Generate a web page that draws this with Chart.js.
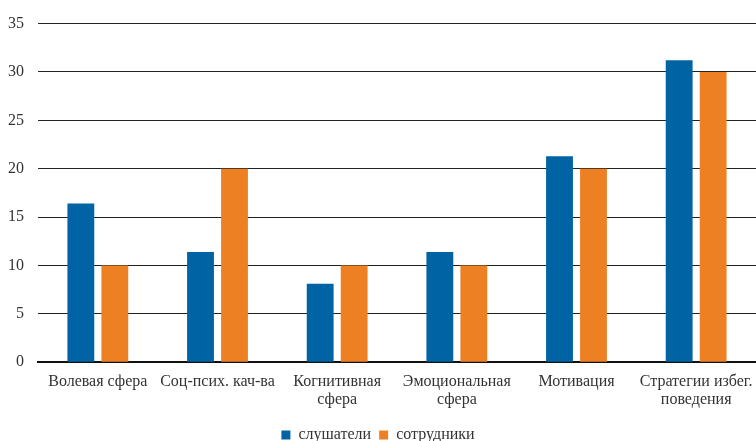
<!DOCTYPE html>
<html>
<head>
<meta charset="utf-8">
<script src="https://cdn.jsdelivr.net/npm/chart.js@4/dist/chart.umd.min.js"></script>
<style>
  html, body { margin: 0; padding: 0; background: #fff; }
  #wrap { width: 756px; height: 441px; }
</style>
</head>
<body>
<div id="wrap"><canvas id="c" width="756" height="441"></canvas></div>
<script>
// Categories (multi-line labels as arrays)
const categories = [
  'Волевая сфера',
  'Соц-псих. кач-ва',
  ['Когнитивная', 'сфера'],
  ['Эмоциональная', 'сфера'],
  'Мотивация',
  ['Стратегии избег.', 'поведения']
];

// Series values
const listeners = [16.4, 11.4, 8.1, 11.4, 21.3, 31.2];   // слушатели
const staff = [10, 20, 10, 10, 20, 30];                   // сотрудники

// Y axis ticks
const yMin = 0;
const yMax = 35;
const yStep = 5;

const seriesNames = ['слушатели', 'сотрудники'];
const seriesColors = ['#0063A3', '#EE8024'];

const fontFamily = '"Liberation Serif", "DejaVu Serif", serif';
const textColor = '#333333';

new Chart(document.getElementById('c'), {
  type: 'bar',
  data: {
    labels: categories,
    datasets: [
      { label: seriesNames[0], data: listeners, backgroundColor: seriesColors[0] },
      { label: seriesNames[1], data: staff, backgroundColor: seriesColors[1] }
    ]
  },
  options: {
    responsive: false,
    animation: false,
    layout: { padding: { top: 13, right: 0, bottom: -12, left: 0 } },
    datasets: {
      bar: { categoryPercentage: 0.568, barPercentage: 0.79 }
    },
    scales: {
      x: {
        // plot area runs to the right edge of the canvas
        afterFit: (axis) => { axis.paddingLeft = 0; axis.paddingRight = 0; },
        grid: { display: false, drawTicks: false },
        border: { display: true, color: '#111111', width: 2 },
        ticks: {
          color: textColor,
          font: { family: fontFamily, size: 16, lineHeight: 1.15 },
          padding: 10,
          maxRotation: 0,
          autoSkip: false
        }
      },
      y: {
        min: yMin,
        max: yMax,
        afterFit: (axis) => { axis.width = 38; },
        grid: { color: '#222222', lineWidth: 1, drawTicks: false },
        border: { display: false },
        ticks: {
          stepSize: yStep,
          color: textColor,
          font: { family: fontFamily, size: 16 },
          padding: 14
        }
      }
    },
    plugins: {
      tooltip: { enabled: false },
      legend: {
        position: 'bottom',
        labels: {
          boxWidth: 9,
          boxHeight: 9,
          padding: 8,
          color: textColor,
          font: { family: fontFamily, size: 16 }
        }
      }
    }
  }
});
</script>
</body>
</html>
